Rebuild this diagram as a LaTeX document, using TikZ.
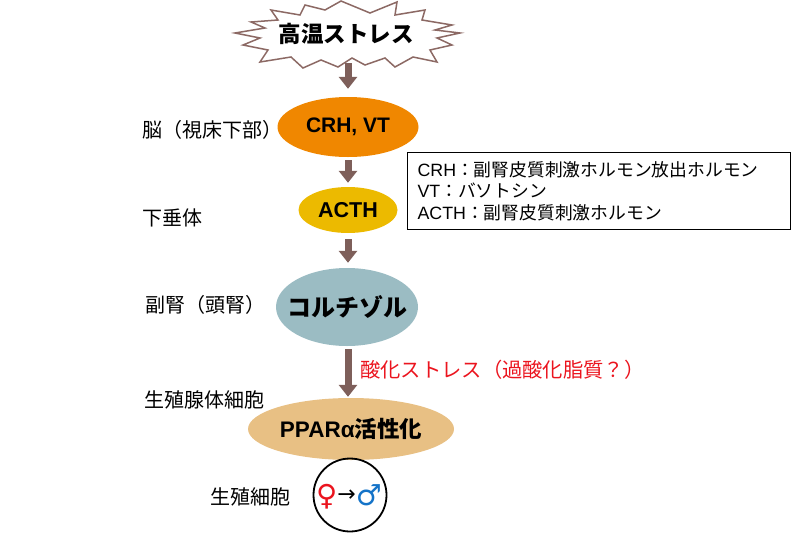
\documentclass[tikz,border=0pt]{standalone}
\usepackage{fontspec}
\setmainfont{Liberation Sans}
\newfontfamily\jp{Noto Sans CJK JP}
\newfontfamily\symf{DejaVu Sans}
\usetikzlibrary{shapes.geometric,arrows.meta}
\definecolor{arrowc}{RGB}{126,95,90}
\definecolor{burstc}{RGB}{140,105,100}
\definecolor{crhc}{RGB}{240,135,0}
\definecolor{acthc}{RGB}{236,186,0}
\definecolor{cortc}{RGB}{155,188,195}
\definecolor{pparc}{RGB}{232,192,132}
\definecolor{redt}{RGB}{235,20,30}
\definecolor{bluet}{RGB}{20,115,200}
\begin{document}
\begin{tikzpicture}[x=1pt,y=-1pt,
  organ/.style={anchor=west, inner sep=0pt, font=\jp\fontsize{20}{24}\selectfont},
  ell/.style={ellipse, inner sep=0pt},
  intext/.style={inner sep=0pt},
  flow/.style={draw=arrowc, line width=7pt, -{Triangle[width=18pt,length=12pt]}},
  bursttext/.style={inner sep=0pt, font=\jp\bfseries\fontsize{22.5}{26}\selectfont}
]
\useasboundingbox (0,0) rectangle (800,533);
% burst
\draw[burstc, line width=1.5pt, fill=white]
 (341,1) -- (370,13) -- (397,2) -- (395,15) -- (425,10) -- (422,20) -- (452,25) -- (435,30) -- (460,33) -- (437,38) -- (452,45) -- (430,50) -- (437,62) -- (413,57) -- (395,67) -- (385,58) -- (365,65) -- (352,58) -- (338,67) -- (321,60) -- (303,68) -- (291,57) -- (260,62) -- (268,50) -- (243,45) -- (260,38) -- (235,33) -- (265,28) -- (251,22) -- (278,20) -- (271,10) -- (300,15) -- (305,5) -- (325,10) -- cycle;
\node[bursttext] (heat) at (346,34) {高温ストレス};
\coordinate (heatbot) at (348,63);

% ellipses
\node[ell, fill=crhc, minimum width=141pt, minimum height=60pt] (crh) at (348,127) {};
\node[intext, font=\bfseries\fontsize{21}{25}\selectfont] (crht) at (crh) {CRH, VT};
\node[ell, fill=acthc, minimum width=99pt, minimum height=46pt] (acth) at (348,210) {};
\node[intext, font=\bfseries\fontsize{21.5}{25}\selectfont] (actht) at (acth) {ACTH};
\node[ell, fill=cortc, minimum width=142pt, minimum height=78pt] (cort) at (347,307) {};
\node[intext, font=\jp\bfseries\fontsize{24}{28}\selectfont] (cortt) at (cort) {コルチゾル};
\node[ell, fill=pparc, minimum width=206pt, minimum height=62pt] (ppar) at (351,429) {};
\node[intext, font=\bfseries\fontsize{22.5}{26}\selectfont] (ppart) at (ppar) {PPARα{\jp 活性化}};
\node[circle, draw=black, line width=1.8pt, minimum size=73pt, inner sep=0pt] (cell) at (350,495) {};
\node[inner sep=0pt] (sex) at (349,497) {\symf\bfseries\fontsize{29}{32}\selectfont\textcolor{redt}{♀}\mdseries\fontsize{22}{26}\selectfont\raisebox{4pt}{→}\bfseries\fontsize{29}{32}\selectfont\textcolor{bluet}{♂}};

% arrows
\draw[flow, shorten >=8pt] (heatbot) -- (crh.north);
\draw[flow, shorten <=3pt, shorten >=4pt] (crh.south) -- (acth.north);
\draw[flow, shorten <=6pt, shorten >=5pt] (acth.south) -- (acth.south |- cort.north);
\draw[flow, shorten <=3pt, shorten >=1pt] (acth.south |- cort.south) -- (acth.south |- ppar.north);

% labels
\node[organ] (l1) at (142,130) {脳（視床下部）};
\node[organ] (l2) at (142,218) {下垂体};
\node[organ] (l3) at (145,305) {副腎（頭腎）};
\node[organ] (l4) at (144,400) {生殖腺体細胞};
\node[organ] (l5) at (210,497) {生殖細胞};
\node[anchor=west, inner sep=0pt, text=redt, font=\jp\fontsize{20.3}{24}\selectfont] (ox) at (360,370) {酸化ストレス（過酸化脂質？）};

% legend
\node[draw=black, line width=1.2pt, anchor=north west, minimum width=383pt, minimum height=77pt, text width=363pt, inner xsep=10pt, align=left, font=\fontsize{17.8}{21.5}\selectfont] (legend) at (407,152)
 {CRH{\jp ：副腎皮質刺激ホルモン放出ホルモン}\\VT{\jp ：バソトシン}\\ACTH{\jp ：副腎皮質刺激ホルモン}};
\end{tikzpicture}
\end{document}
